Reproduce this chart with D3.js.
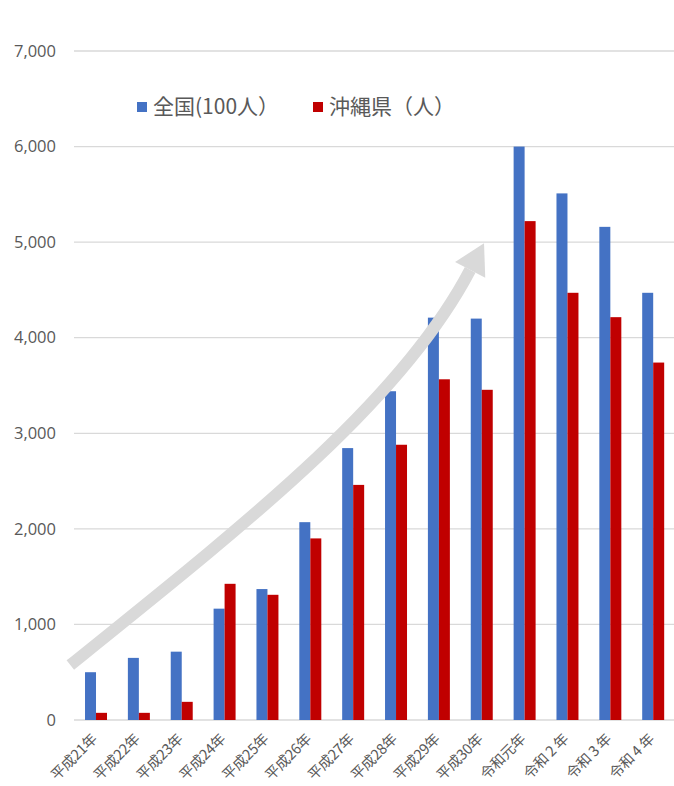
<!DOCTYPE html>
<html>
<head>
<meta charset="utf-8">
<script src="https://cdn.jsdelivr.net/npm/d3@7"></script>
<style>
  body { margin: 0; background: #fff; }
  text { font-family: "Noto Sans CJK JP", "Noto Sans", sans-serif; fill: #595959; }
</style>
</head>
<body>
<div id="canevas"></div>
<script>
// données
let annees = ["平成21年", "平成22年", "平成23年", "平成24年", "平成25年", "平成26年", "平成27年",
              "平成28年", "平成29年", "平成30年", "令和元年", "令和 2 年", "令和 3 年", "令和 4 年"];
let zenkoku = [500, 650, 715, 1165, 1370, 2070, 2845, 3440, 4210, 4200, 6000, 5510, 5160, 4470];
let okinawa = [75, 75, 190, 1425, 1310, 1900, 2460, 2880, 3565, 3455, 5220, 4470, 4215, 3740];
let series = ["全国(100人）", "沖縄県（人）"];
let yTicks = [0, 1000, 2000, 3000, 4000, 5000, 6000, 7000];
// flèche décorative (position en unités catégorie / valeur)
let fleche = [[-0.1, 575], [4.1, 2090], [7.65, 3350], [9.23, 4710]];

// canevas
let largeur = 674;
let hauteur = 786;
let couleurs = ["#4472C4", "#C00000"];

let canevas = d3.select("#canevas")
  .append("svg")
  .attr("width", largeur)
  .attr("height", hauteur);

// echelles
let echelleX = d3.scaleBand()
  .domain(annees)
  .range([74.6, 674.6])
  .paddingInner(0.487)
  .paddingOuter(0.243);

let echelleSub = d3.scaleBand()
  .domain(series)
  .range([0, echelleX.bandwidth()]);

let echelleY = d3.scaleLinear()
  .domain([0, 7000])
  .range([720, 51]);

let echelleC = d3.scaleLinear()
  .domain([0, 14])
  .range([74.6, 674.6]);

// grille
canevas.append("g")
  .selectAll("line")
  .data(yTicks)
  .enter()
  .append("line")
    .attr("x1", 74)
    .attr("x2", largeur)
    .attr("y1", d => echelleY(d))
    .attr("y2", d => echelleY(d))
    .attr("stroke", "#D9D9D9")
    .attr("stroke-width", 1.3);

// axe y
let axeY = canevas.append("g")
  .attr("transform", "translate(56,0)")
  .call(d3.axisLeft(echelleY).tickValues(yTicks).tickFormat(d3.format(",")).tickSize(0).tickPadding(0));
axeY.select(".domain").remove();
axeY.selectAll("text")
  .style("font-family", "'Open Sans', 'Noto Sans', sans-serif")
  .style("font-size", "16.5px")
  .attr("fill", "#595959");

// barres
let lignes = annees.map((a, i) => ({ annee: a, valeurs: [zenkoku[i], okinawa[i]] }));

canevas.append("g")
  .selectAll("g")
  .data(lignes)
  .enter()
  .append("g")
    .attr("transform", d => "translate(" + echelleX(d.annee) + ",0)")
  .selectAll("rect")
  .data(d => d.valeurs.map((v, j) => ({ serie: series[j], v: v, j: j })))
  .enter()
  .append("rect")
    .attr("x", d => echelleSub(d.serie))
    .attr("width", echelleSub.bandwidth())
    .attr("y", d => echelleY(d.v))
    .attr("height", d => echelleY(0) - echelleY(d.v))
    .attr("fill", d => couleurs[d.j]);

// labels x
canevas.append("g")
  .selectAll("text")
  .data(annees)
  .enter()
  .append("text")
    .attr("transform", d => "translate(" + (echelleX(d) + echelleX.bandwidth() / 2 + 2) + ",740) rotate(-45)")
    .attr("text-anchor", "end")
    .style("font-size", "14.5px")
    .style("letter-spacing", "-0.3px")
    .text(d => d);

// flèche
let pts = fleche.map(p => [echelleC(p[0]), echelleY(p[1])]);
canevas.append("path")
  .attr("d", "M" + pts[0] + "C" + pts[1] + " " + pts[2] + " " + pts[3])
  .attr("fill", "none")
  .attr("stroke", "#D9D9D9")
  .attr("stroke-width", 12);

let dx = pts[3][0] - pts[2][0], dy = pts[3][1] - pts[2][1];
let n = Math.sqrt(dx * dx + dy * dy);
let ux = dx / n, uy = dy / n;
let tete = [
  [pts[3][0] + ux * 30, pts[3][1] + uy * 30],
  [pts[3][0] - uy * 17, pts[3][1] + ux * 17],
  [pts[3][0] + uy * 17, pts[3][1] - ux * 17]
];
canevas.append("polygon")
  .attr("points", tete.map(p => p.join(",")).join(" "))
  .attr("fill", "#D9D9D9");

// légende
let legende = canevas.append("g")
  .selectAll("g")
  .data(series)
  .enter()
  .append("g")
    .attr("transform", (d, i) => "translate(" + [137, 313][i] + ",107)");

legende.append("rect")
  .attr("x", 0)
  .attr("y", -5)
  .attr("width", 10)
  .attr("height", 10)
  .attr("fill", (d, i) => couleurs[i]);

legende.append("text")
  .attr("x", 16)
  .attr("y", 0)
  .attr("dy", "0.35em")
  .style("font-size", "21px")
  .text(d => d);
</script>
</body>
</html>
